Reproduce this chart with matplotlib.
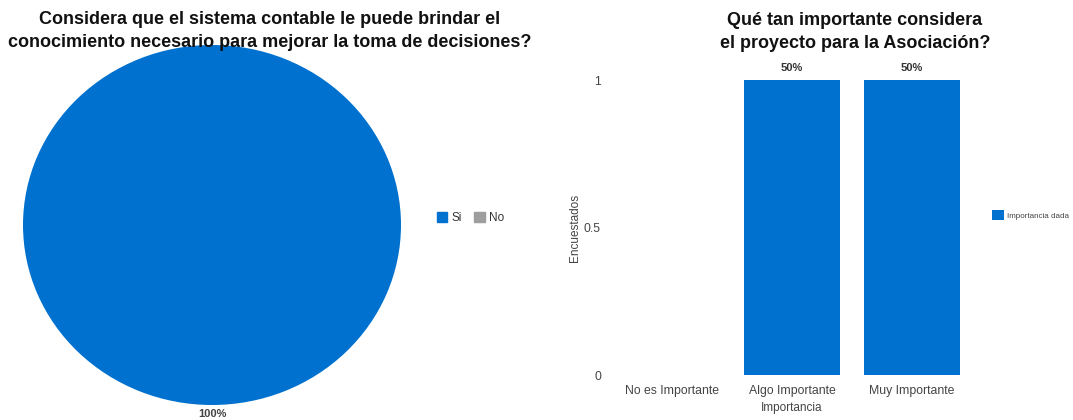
import matplotlib.pyplot as plt

plt.rcParams['font.family'] = ['Liberation Sans', 'DejaVu Sans']

# Pie data
pie_labels = ['Si', 'No']
pie_values = [100, 0]
pie_colors = ['#0071CE', '#9E9E9E']

# Bar data
categories = ['No es Importante', 'Algo Importante', 'Muy Importante']
respondents = [0, 1, 1]
percent_labels = ['0%', '50%', '50%']

blue = '#0071CE'

fig = plt.figure(figsize=(10.73, 4.2), dpi=100)

# Pie chart
ax1 = fig.add_axes([23 / 1073, 15 / 420, 378 / 1073, 360 / 420])
ax1.pie(pie_values, colors=pie_colors, startangle=90, counterclock=False,
        wedgeprops={'linewidth': 0})
ax1.set_aspect('auto')
ax1.set_xlim(-1, 1)
ax1.set_ylim(-1, 1)
ax1.text(0, -1.02, f"{pie_values[0]}%", ha='center', va='top',
         fontsize=8, fontweight='bold', color='#444444')
fig.text(270 / 1073, 1 - 31 / 420,
         "Considera que el sistema contable le puede brindar el\n"
         "conocimiento necesario para mejorar la toma de decisiones?",
         ha='center', va='center', fontsize=13, fontweight='bold',
         linespacing=1.45, color='#111111')

# Pie legend
handles = [plt.Rectangle((0, 0), 1, 1, color=c) for c in pie_colors]
fig.legend(handles, pie_labels, loc='center left', ncol=2,
           bbox_to_anchor=(426 / 1073, 1 - 218 / 420), frameon=False,
           fontsize=8.5, handlelength=0.9, handleheight=0.9, handletextpad=0.4,
           columnspacing=1.0, labelcolor='#333333')

# Bar chart
ax2 = fig.add_axes([612 / 1073, 45 / 420, 360 / 1073, 295 / 420])
x = range(len(categories))
bars = ax2.bar(x, respondents, width=0.8, color=blue, label='Importancia dada')
for b, v, lab in zip(bars, respondents, percent_labels):
    if v > 0:
        ax2.text(b.get_x() + b.get_width() / 2, v + 0.025, lab, ha='center',
                 va='bottom', fontsize=8, fontweight='bold', color='#333333')
ax2.set_xlim(-0.5, 2.5)
ax2.set_ylim(0, 1)
ax2.set_xticks(list(x))
ax2.set_xticklabels(categories)
ax2.set_yticks([0, 0.5, 1])
ax2.set_yticklabels(['0', '0.5', '1'])
ax2.tick_params(length=0, labelsize=8.8, labelcolor='#444444')
ax2.tick_params(axis='x', pad=7)
ax2.tick_params(axis='y', pad=8)
for s in ax2.spines.values():
    s.set_visible(False)
ax2.set_xlabel('Importancia', fontsize=8.5, color='#444444', labelpad=4)
ax2.set_ylabel('Encuestados', fontsize=8.5, color='#444444', labelpad=2)
fig.text(855 / 1073, 1 - 32 / 420,
         "Qué tan importante considera\nel proyecto para la Asociación?",
         ha='center', va='center', fontsize=13, fontweight='bold',
         linespacing=1.45, color='#111111')
fig.legend(handles=[bars], loc='center left',
           bbox_to_anchor=(985 / 1073, 1 - 215 / 420), frameon=False,
           fontsize=5.8, handlelength=1.4, handleheight=1.4, handletextpad=0.4,
           labelcolor='#444444')

fig.savefig('out.png', dpi=100)
